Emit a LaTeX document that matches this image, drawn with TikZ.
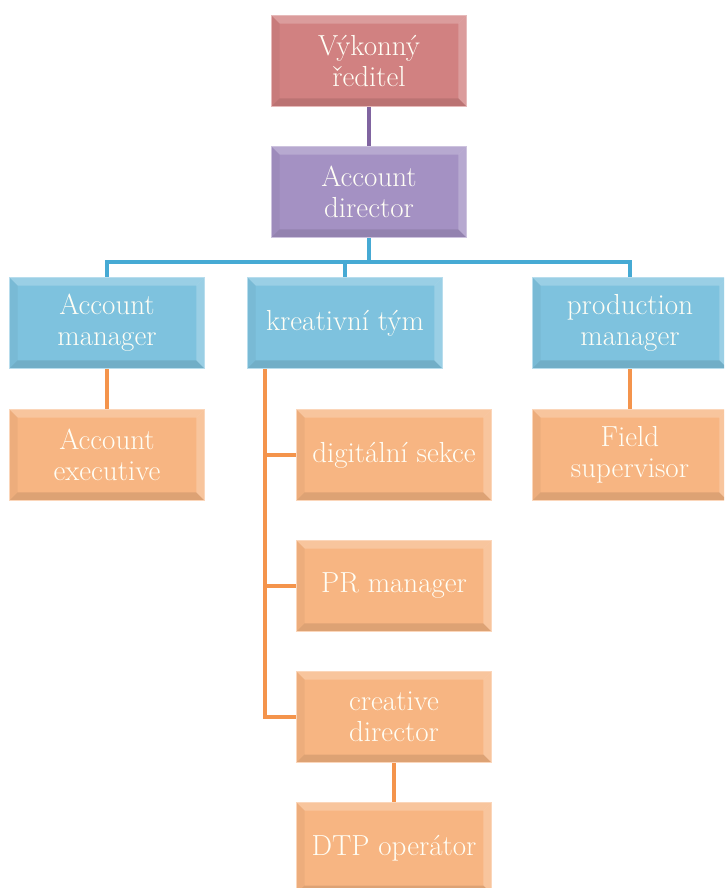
\documentclass[tikz,border=0pt]{standalone}
\usepackage{fontspec}
\usetikzlibrary{positioning,calc}
\definecolor{ceofill}{RGB}{209,129,129}
\definecolor{dirfill}{RGB}{164,145,195}
\definecolor{mgrfill}{RGB}{126,194,222}
\definecolor{stafffill}{RGB}{247,181,130}
\definecolor{dirline}{RGB}{128,100,160}
\definecolor{mgrline}{RGB}{70,170,212}
\definecolor{staffline}{RGB}{244,148,76}
\tikzset{
	orgbox/.style={draw=#1!55!white, line width=0.6pt, fill=#1,
		minimum width=3.9cm, minimum height=1.82cm, inner sep=2pt,
		align=center, text=white!96!yellow,
		font=\fontsize{16.5}{17.5}\selectfont,
		path picture={
			\path (path picture bounding box.north west) coordinate (bnw)
			(path picture bounding box.north east) coordinate (bne)
			(path picture bounding box.south west) coordinate (bsw)
			(path picture bounding box.south east) coordinate (bse);
			\fill[white, opacity=0.22] (bnw) -- (bne) -- ($(bne)+(-8,8)$) -- ($(bnw)+(8,8)$) -- cycle;
			\fill[white, opacity=0.22] (bne) -- (bse) -- ($(bse)+(-8,-8)$) -- ($(bne)+(-8,8)$) -- cycle;
			\fill[black, opacity=0.04] (bnw) -- (bsw) -- ($(bsw)+(8,-8)$) -- ($(bnw)+(8,8)$) -- cycle;
			\fill[black, opacity=0.1] (bsw) -- (bse) -- ($(bse)+(-8,-8)$) -- ($(bsw)+(8,-8)$) -- cycle;
		}},
	link/.style={line width=2.2pt}
}
\begin{document}
\begin{tikzpicture}[x=0.02cm, y=-0.02cm]
	\useasboundingbox (0,0) rectangle (724,888);
	\begin{scope}
	\clip (0,0) rectangle (724,888);
	
	%% -- top of the chart
	\node[orgbox=ceofill] (ceo) at (369,61) {Výkonný\\ředitel};
	\node[orgbox=dirfill] (ad) at (369,192) {Account\\director};
	
	%% -- managers
	\node[orgbox=mgrfill] (am) at (107,323) {Account\\manager};
	\node[orgbox=mgrfill] (kt) at (345,323) {kreativní tým};
	\node[orgbox=mgrfill] (pm) at (630,323) {production\\manager};
	
	%% -- staff
	\node[orgbox=stafffill] (ae) at (107,455) {Account\\executive};
	\node[orgbox=stafffill] (fs) at (630,455) {Field\\supervisor};
	\node[orgbox=stafffill] (ds) at (394,455) {digitální sekce};
	\node[orgbox=stafffill] (pr) at (394,586) {PR manager};
	\node[orgbox=stafffill] (cd) at (394,717) {creative\\director};
	\node[orgbox=stafffill] (dtp) at (394,848) {DTP operátor};
	
	%% -- connectors
	\coordinate (hub) at (369,262);
	\coordinate (spine) at (265,0);
	
	\draw[link, dirline] (ceo) -- (ad);
	
	\draw[link, mgrline] (ad.south) -- (hub) -| (am.north);
	\draw[link, mgrline] (hub) -| (pm.north);
	\draw[link, mgrline] (hub) -| (kt.north);
	
	\draw[link, staffline] (am) -- (ae);
	\draw[link, staffline] (pm) -- (fs);
	\draw[link, staffline] (kt.south -| spine) |- (cd.west);
	\draw[link, staffline] (spine |- ds.west) -- (ds.west);
	\draw[link, staffline] (spine |- pr.west) -- (pr.west);
	\draw[link, staffline] (cd) -- (dtp);
	\end{scope}
\end{tikzpicture}
\end{document}
